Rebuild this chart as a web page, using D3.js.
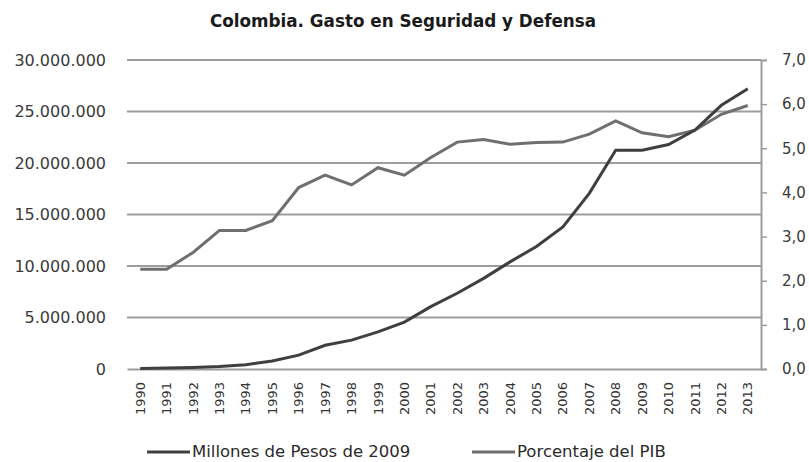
<!DOCTYPE html>
<html>
<head>
<meta charset="utf-8">
<script src="https://cdn.jsdelivr.net/npm/d3@7"></script>
<style>
  body { margin: 0; background: #fff; }
  svg { display: block; font-family: "DejaVu Sans", sans-serif; }
</style>
</head>
<body>
<div id="chart"></div>
<script>
// data
const years = ["1990","1991","1992","1993","1994","1995","1996","1997","1998","1999","2000","2001",
	"2002","2003","2004","2005","2006","2007","2008","2009","2010","2011","2012","2013"];
const millones = [50000, 90000, 150000, 250000, 420000, 780000, 1350000, 2300000, 2800000, 3600000, 4550000, 6050000,
	7350000, 8800000, 10400000, 11900000, 13800000, 17050000, 21250000, 21250000, 21800000, 23200000, 25600000, 27200000];
const porcentaje = [2.26, 2.26, 2.64, 3.14, 3.14, 3.36, 4.11, 4.39, 4.17, 4.56, 4.39, 4.79,
	5.14, 5.2, 5.09, 5.13, 5.14, 5.32, 5.62, 5.35, 5.26, 5.41, 5.77, 5.97];
const leftTicks = [0, 5000000, 10000000, 15000000, 20000000, 25000000, 30000000];
const rightTicks = [0, 1, 2, 3, 4, 5, 6, 7];
const seriesNames = ["Millones de Pesos de 2009", "Porcentaje del PIB"];

const W = 809, H = 462;
const plot = {l: 127, r: 761, t: 60, b: 369};
const colors = ["#3f3f3f", "#6f6f6f"];

const scaleX = d3.scaleBand().domain(years).range([plot.l, plot.r]);
const cx = d => scaleX(d) + scaleX.bandwidth() / 2;
const scaleL = d3.scaleLinear().domain([0, 30000000]).range([plot.b, plot.t]);
const scaleR = d3.scaleLinear().domain([0, 7]).range([plot.b, plot.t]);

const fmtL = v => v === 0 ? "0" : d3.format(",")(v).replace(/,/g, ".");
const fmtR = v => d3.format(".1f")(v).replace(".", ",");

const svg = d3.select("#chart").append("svg")
	.attr("width", W)
	.attr("height", H);

// title
svg.append("text")
	.attr("x", 403).attr("y", 27)
	.attr("text-anchor", "middle")
	.style("font-size", "16.8px")
	.style("font-weight", "bold")
	.style("fill", "#1a1a1a")
	.text("Colombia. Gasto en Seguridad y Defensa");

// gridlines (left axis)
svg.append("g")
	.selectAll("line")
	.data(leftTicks.slice(1))
	.join("line")
	.attr("x1", plot.l).attr("x2", plot.r)
	.attr("y1", d => scaleL(d)).attr("y2", d => scaleL(d))
	.style("stroke", "#9d9d9d")
	.style("stroke-width", 2);

// left labels
const axisL = d3.axisLeft(scaleL)
	.tickValues(leftTicks)
	.tickFormat(fmtL)
	.tickSize(0)
	.tickPadding(21);
const gL = svg.append("g")
	.attr("transform", `translate(${plot.l},0)`)
	.call(axisL);
gL.select(".domain").remove();
gL.selectAll("text").style("font-size", "16px").style("fill", "#3a3a3a").style("font-family", "DejaVu Sans");

// right axis
const axisR = d3.axisRight(scaleR)
	.tickValues(rightTicks)
	.tickFormat(fmtR)
	.tickSizeOuter(0)
	.tickSize(6)
	.tickPadding(15);
const gR = svg.append("g")
	.attr("transform", `translate(${plot.r},0)`)
	.call(axisR);
gR.select(".domain").style("stroke", "#9d9d9d").style("stroke-width", 2);
gR.selectAll(".tick line").style("stroke", "#9d9d9d").style("stroke-width", 1.5);
gR.selectAll("text").style("font-size", "15px").style("fill", "#3a3a3a").style("font-family", "DejaVu Sans");

// bottom axis
const axisX = d3.axisBottom(scaleX).tickSize(0).tickPadding(0);
const gX = svg.append("g")
	.attr("transform", `translate(0,${plot.b})`)
	.call(axisX);
gX.select(".domain").style("stroke", "#9d9d9d").style("stroke-width", 2);
gX.selectAll("text")
	.attr("transform", "rotate(-90)")
	.attr("x", -13).attr("y", 0).attr("dy", "0.35em")
	.style("text-anchor", "end")
	.style("font-size", "13px")
	.style("fill", "#333")
	.style("font-family", "DejaVu Sans");

// lines
const lineL = d3.line().x((d, i) => cx(years[i])).y(d => scaleL(d));
const lineR = d3.line().x((d, i) => cx(years[i])).y(d => scaleR(d));

svg.append("path")
	.datum(porcentaje)
	.attr("d", lineR)
	.style("fill", "none")
	.style("stroke", colors[1])
	.style("stroke-width", 3);

svg.append("path")
	.datum(millones)
	.attr("d", lineL)
	.style("fill", "none")
	.style("stroke", colors[0])
	.style("stroke-width", 3);

// legend
const legendX = [147, 472];
const legend = svg.append("g").selectAll("g")
	.data(seriesNames)
	.join("g")
	.attr("transform", (d, i) => `translate(${legendX[i]},452)`);
legend.append("line")
	.attr("x1", 0).attr("x2", 43)
	.style("stroke", (d, i) => colors[i])
	.style("stroke-width", 3);
legend.append("text")
	.attr("x", 45).attr("y", 5)
	.style("font-size", "16.5px")
	.style("fill", "#2a2a2a")
	.text(d => d);
</script>
</body>
</html>
